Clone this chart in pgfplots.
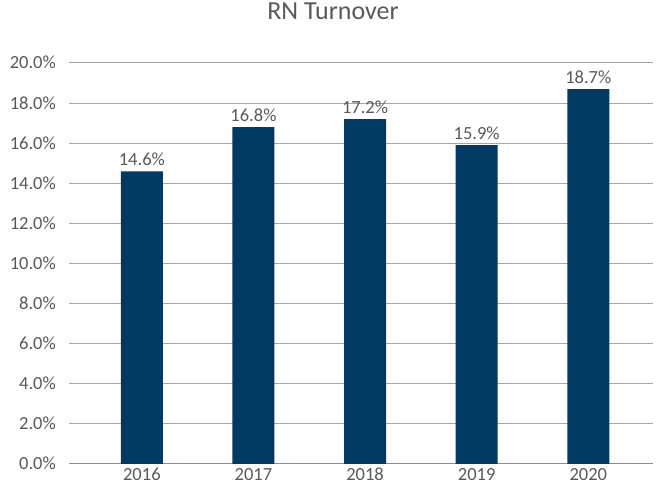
\documentclass[border=0pt]{standalone}
\usepackage{pgfplots}
\pgfplotsset{compat=1.18}
\usepackage{fontspec}
\setmainfont{Carlito}
\definecolor{barblue}{HTML}{003A63}
\definecolor{txtgray}{HTML}{595959}
\definecolor{gridgray}{HTML}{A6A6A6}
\definecolor{axisgray}{HTML}{8C8C8C}
\begin{document}
\begin{tikzpicture}
\useasboundingbox (-69pt,-22pt) rectangle (588pt,464pt);
\begin{axis}[
  scale only axis, width=584pt, height=401pt,
  at={(0,0)}, anchor=south west,
  xmin=-0.653, xmax=4.58, ymin=0, ymax=20,
  ytick={0,2,4,6,8,10,12,14,16,18,20},
  xtick={0,1,2,3,4},
  xticklabels={2016,2017,2018,2019,2020},
  axis y line*=left,
  y axis line style={draw=none},
  axis x line*=bottom,
  x axis line style={draw=axisgray, line width=1pt, -},
  major tick length=0pt,
  ymajorgrids,
  grid style={draw=gridgray, line width=1pt},
  /pgf/number format/assume math mode=true,
  ticklabel style={font=\fontsize{18.5}{22}\selectfont, text=txtgray},
  yticklabel={\pgfmathprintnumber[fixed,fixed zerofill,precision=1]{\tick}\%},
  yticklabel style={anchor=base east, inner sep=0pt, xshift=-13pt, yshift=-6pt},
  xticklabel style={anchor=base, inner sep=0pt, yshift=-17pt},
  title={RN Turnover},
  title style={font=\fontsize{26}{30}\selectfont, text=txtgray, at={(0.452,1)}, anchor=base, inner sep=0pt, yshift=37pt},
  ybar, bar width=42pt,
  nodes near coords={\pgfmathprintnumber[fixed,fixed zerofill,precision=1]{\pgfplotspointmeta}\%},
  every node near coord/.append style={font=\fontsize{18.5}{22}\selectfont, text=txtgray, anchor=base, inner sep=0pt, yshift=5.5pt},
  clip=false,
]
\addplot[fill=barblue, draw=none] coordinates {(0,14.6) (1,16.8) (2,17.2) (3,15.9) (4,18.7)};
\end{axis}
\end{tikzpicture}
\end{document}
